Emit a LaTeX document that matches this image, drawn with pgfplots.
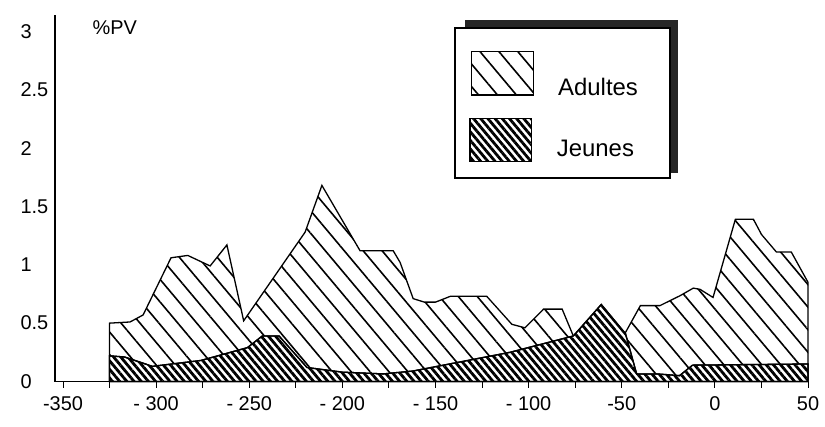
\documentclass[border=0pt]{standalone}
\usepackage{fontspec}
\setmainfont{Liberation Sans}
\usepackage{pgfplots}
\pgfplotsset{compat=1.18}
\usetikzlibrary{patterns.meta}

\begin{document}
\begin{tikzpicture}
\useasboundingbox (-55bp,-45.5bp) rectangle (770bp,381.5bp);
\begin{axis}[
    scale only axis,
    width=753bp, height=366.5bp,
    xmin=-354.3, xmax=50,
    ymin=0, ymax=3.14,
    axis lines=left,
    axis line style={-, line width=1.1bp},
    xtick={-350,-300,-250,-200,-150,-100,-50,0,50},
    minor xtick={-325,-275,-225,-175,-125,-75,-25,25},
    xticklabels={-350,- 300,- 250,- 200,- 150,- 100,-50,0,50},
    ytick={0,0.5,1,1.5,2,2.5,3},
    yticklabels={0,0.5,1,1.5,2,2.5,3},
    tick align=outside,
    major tick length=6bp, minor tick length=6bp,
    tick style={line width=1bp, black},
    ytick style={draw=none},
    ticklabel style={font=\fontsize{20}{22}\selectfont},
    yticklabel style={anchor=west, xshift=-32bp},
    xticklabel style={yshift=-6bp},
    clip=false,
]

% Adultes
\addplot[draw=black, line width=1.3bp,
    pattern={Lines[angle=-50,distance=14.5bp,line width=1.6bp]}] coordinates {
    (-325,0.50) (-314,0.51) (-307,0.57) (-292,1.06) (-283,1.08)
    (-271,0.99) (-262,1.17) (-253,0.52) (-220,1.28) (-211,1.68)
    (-190.5,1.12) (-172.7,1.12) (-169,1.02) (-162,0.71) (-156,0.68)
    (-150,0.68) (-142,0.73) (-122.5,0.73) (-109,0.49) (-102,0.46)
    (-92,0.62) (-82,0.62) (-76,0.39) (-61,0.36) (-48,0.42)
    (-40,0.65) (-29.5,0.65) (-18.7,0.735) (-11.6,0.80) (-8,0.79)
    (-1,0.72) (11,1.39) (20.7,1.39) (25,1.26) (33,1.11)
    (41,1.11) (50,0.85)
} \closedcycle;

% Jeunes
\addplot[draw=black, line width=1.3bp, preaction={fill=white},
    pattern={Lines[angle=-50,distance=5.5bp,line width=2.8bp]}] coordinates {
    (-325,0.22) (-317,0.21) (-302,0.13) (-276,0.18) (-251,0.29)
    (-243,0.39) (-234,0.39) (-219,0.12) (-200,0.08) (-178,0.065)
    (-162,0.09) (-110,0.25) (-76,0.39) (-61,0.66) (-48,0.41)
    (-42,0.065) (-31,0.065) (-19,0.05) (-12,0.14) (50,0.15)
} \closedcycle;

\node[anchor=west, font=\fontsize{20}{22}\selectfont] at (axis cs:-336,3.03) {\%PV};
\end{axis}

% legend box with shadow
\fill[black!85] (410bp,208.5bp) rectangle (623bp,361.5bp);
\draw[line width=1.3bp, fill=white] (400bp,203.5bp) rectangle (615bp,353.5bp);
\draw[line width=1.3bp, pattern={Lines[angle=-50,distance=14.5bp,line width=1.6bp]}]
    (416.7bp,286.5bp) rectangle (478.3bp,329.8bp);
\draw[line width=1.3bp, pattern={Lines[angle=-50,distance=5.5bp,line width=2.8bp]}]
    (415bp,219.8bp) rectangle (476.7bp,263.2bp);
\node[anchor=west, inner sep=0pt, font=\fontsize{24}{26}\selectfont] at (503bp,294.8bp) {Adultes};
\node[anchor=west, inner sep=0pt, font=\fontsize{24}{26}\selectfont] at (501.7bp,233.5bp) {Jeunes};
\end{tikzpicture}
\end{document}
